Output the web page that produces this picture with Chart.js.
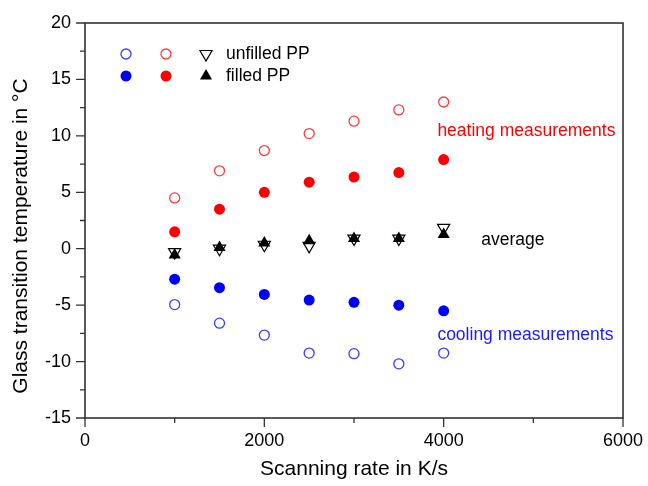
<!DOCTYPE html>
<html>
<head>
<meta charset="utf-8">
<script src="https://cdn.jsdelivr.net/npm/chart.js@4/dist/chart.umd.min.js"></script>
<style>
html,body{margin:0;padding:0;background:#fff;}
#wrap{width:648px;height:486px;}
</style>
</head>
<body>
<div id="wrap"><canvas id="c" width="648" height="486"></canvas></div>
<script>
// ---- data ----
const rates = [1000, 1500, 2000, 2500, 3000, 3500, 4000];
const heatUnfilled = [4.5, 6.9, 8.7, 10.2, 11.3, 12.3, 13.0];
const heatFilled = [1.5, 3.5, 5.0, 5.9, 6.35, 6.75, 7.9];
const coolFilled = [-2.7, -3.45, -4.05, -4.55, -4.75, -5.0, -5.5];
const coolUnfilled = [-4.95, -6.6, -7.65, -9.25, -9.3, -10.2, -9.25];
const avgUnfilled = [-0.3, 0.0, 0.35, 0.25, 0.9, 0.9, 1.85];
const avgFilled = [-0.55, 0.1, 0.5, 0.7, 0.9, 0.9, 1.25];
const xTicks = [0, 2000, 4000, 6000];
const yTicks = [-15, -10, -5, 0, 5, 10, 15, 20];
const xTitle = 'Scanning rate in K/s';
const yTitle = 'Glass transition temperature in °C';
const legendRows = ['unfilled PP', 'filled PP'];
const notes = [
  {text: 'heating measurements', x: 3930, y: 10.45, color: '#ff0000'},
  {text: 'average', x: 4420, y: 0.8, color: '#000000'},
  {text: 'cooling measurements', x: 3930, y: -7.7, color: '#1a1aff'}
];

const FONT = "'Liberation Sans', Arial, sans-serif";
const pts = arr => arr.map((v, i) => ({x: rates[i], y: v}));

function drawSym(ctx, kind, x, y) {
  ctx.save();
  if (kind === 'openBlue' || kind === 'openRed') {
    ctx.beginPath(); ctx.arc(x, y, 5, 0, Math.PI * 2);
    ctx.lineWidth = 1.3; ctx.strokeStyle = kind === 'openBlue' ? '#3c3cff' : '#ff3c3c'; ctx.stroke();
  } else if (kind === 'fillBlue' || kind === 'fillRed') {
    ctx.beginPath(); ctx.arc(x, y, 5.5, 0, Math.PI * 2);
    ctx.fillStyle = kind === 'fillBlue' ? '#0000ff' : '#ff0000'; ctx.fill();
  } else if (kind === 'down') {
    const r = 7;
    ctx.beginPath();
    ctx.moveTo(x - r * 0.866, y - r * 0.5); ctx.lineTo(x + r * 0.866, y - r * 0.5); ctx.lineTo(x, y + r); ctx.closePath();
    ctx.lineWidth = 1.2; ctx.strokeStyle = '#000'; ctx.stroke();
  } else if (kind === 'up') {
    const r = 7;
    ctx.beginPath();
    ctx.moveTo(x - r * 0.866, y + r * 0.5); ctx.lineTo(x + r * 0.866, y + r * 0.5); ctx.lineTo(x, y - r); ctx.closePath();
    ctx.fillStyle = '#000'; ctx.fill();
  }
  ctx.restore();
}

const decor = {
  id: 'decor',
  afterDraw(chart) {
    const ctx = chart.ctx, a = chart.chartArea;
    const xs = chart.scales.x, ys = chart.scales.y;
    ctx.save();
    ctx.strokeStyle = '#333'; ctx.lineWidth = 1.6;
    ctx.strokeRect(a.left, a.top, a.right - a.left, a.bottom - a.top);
    ctx.lineWidth = 1.3;
    ctx.beginPath();
    for (let v = 0; v <= 6000; v += 1000) {
      const px = xs.getPixelForValue(v);
      const len = xTicks.includes(v) ? 9 : 5;
      ctx.moveTo(px, a.bottom); ctx.lineTo(px, a.bottom + len);
    }
    for (let v = -15; v <= 20; v += 2.5) {
      const py = ys.getPixelForValue(v);
      const len = yTicks.includes(v) ? 9 : 5;
      ctx.moveTo(a.left, py); ctx.lineTo(a.left - len, py);
    }
    ctx.stroke();

    // y title
    ctx.save();
    ctx.translate(21, 236);
    ctx.rotate(-Math.PI / 2);
    ctx.font = '21px ' + FONT;
    ctx.fillStyle = '#000';
    ctx.textAlign = 'center'; ctx.textBaseline = 'middle';
    ctx.fillText(yTitle, 0, 0);
    ctx.restore();

    // legend
    const lx = [126, 166, 206], ly = [54, 76];
    drawSym(ctx, 'openBlue', lx[0], ly[0]);
    drawSym(ctx, 'openRed', lx[1], ly[0]);
    drawSym(ctx, 'down', lx[2], ly[0]);
    drawSym(ctx, 'fillBlue', lx[0], ly[1]);
    drawSym(ctx, 'fillRed', lx[1], ly[1]);
    drawSym(ctx, 'up', lx[2], ly[1]);
    ctx.font = '17.5px ' + FONT;
    ctx.fillStyle = '#000';
    ctx.textBaseline = 'middle'; ctx.textAlign = 'left';
    ctx.fillText(legendRows[0], 226, ly[0]);
    ctx.fillText(legendRows[1], 226, ly[1]);

    // notes
    notes.forEach(n => {
      ctx.fillStyle = n.color;
      ctx.fillText(n.text, xs.getPixelForValue(n.x), ys.getPixelForValue(n.y));
    });
    ctx.restore();
  }
};

new Chart(document.getElementById('c'), {
  type: 'scatter',
  data: {
    datasets: [
      {data: pts(avgFilled), pointStyle: 'triangle', radius: 7, backgroundColor: '#000', borderColor: '#000', borderWidth: 0},
      {data: pts(avgUnfilled), pointStyle: 'triangle', rotation: 180, radius: 7, backgroundColor: 'rgba(0,0,0,0)', borderColor: '#000', borderWidth: 1.2},
      {data: pts(heatFilled), pointStyle: 'circle', radius: 5.5, backgroundColor: '#ff0000', borderColor: '#ff0000', borderWidth: 0},
      {data: pts(heatUnfilled), pointStyle: 'circle', radius: 5, backgroundColor: 'rgba(0,0,0,0)', borderColor: '#ff3c3c', borderWidth: 1.3},
      {data: pts(coolFilled), pointStyle: 'circle', radius: 5.5, backgroundColor: '#0000ff', borderColor: '#0000ff', borderWidth: 0},
      {data: pts(coolUnfilled), pointStyle: 'circle', radius: 5, backgroundColor: 'rgba(0,0,0,0)', borderColor: '#3c3cff', borderWidth: 1.3}
    ]
  },
  options: {
    responsive: false,
    animation: false,
    events: [],
    layout: {padding: {top: 23, right: 25, left: 0, bottom: 0}},
    plugins: {legend: {display: false}, tooltip: {enabled: false}},
    scales: {
      x: {
        type: 'linear', min: 0, max: 6000,
        afterFit(s) { s.height = 68; s.paddingLeft = 0; s.paddingRight = 0; },
        afterBuildTicks(s) { s.ticks = xTicks.map(v => ({value: v})); },
        grid: {display: false, drawTicks: false},
        border: {display: false},
        ticks: {padding: 12, color: '#000', font: {family: FONT, size: 18}, maxRotation: 0, callback: v => String(v)},
        title: {display: true, text: xTitle, color: '#000', font: {family: FONT, size: 21}, padding: {top: 0, bottom: 4}}
      },
      y: {
        type: 'linear', min: -15, max: 20,
        afterFit(s) { s.width = 85; s.paddingTop = 0; s.paddingBottom = 0; },
        afterBuildTicks(s) { s.ticks = yTicks.map(v => ({value: v})); },
        grid: {display: false, drawTicks: false},
        border: {display: false},
        ticks: {padding: 14, color: '#000', font: {family: FONT, size: 18}, callback: v => String(v)},
        title: {display: false}
      }
    }
  },
  plugins: [decor]
});
</script>
</body>
</html>
